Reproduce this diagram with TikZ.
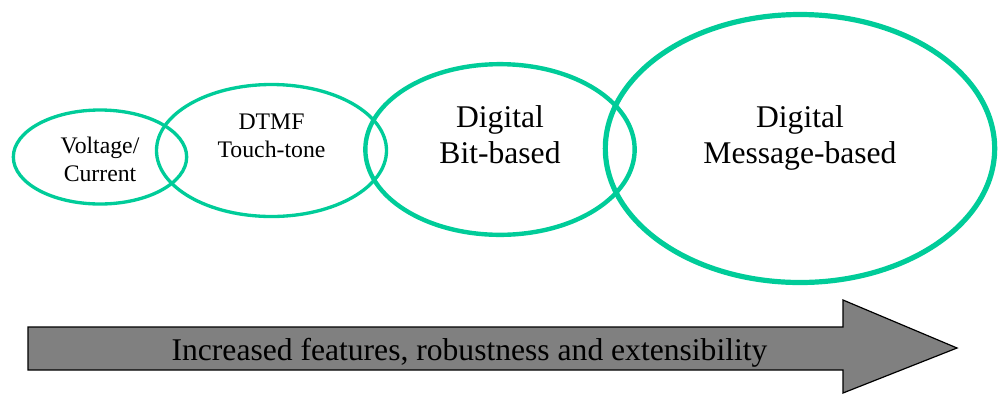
\documentclass[tikz,border=0pt]{standalone}
\usepackage{fontspec}
\setmainfont{Liberation Serif}
\usetikzlibrary{shapes.geometric, positioning}
\definecolor{ringgreen}{RGB}{0,204,153}
\definecolor{bandgray}{RGB}{128,128,128}

\begin{document}
\begin{tikzpicture}[
    x=0.75pt, y=-0.75pt,
    ring/.style={ellipse, draw=ringgreen, inner sep=0pt},
    smalltxt/.style={align=center, inner sep=0pt, font=\fontsize{17.8}{21}\selectfont},
    bigtxt/.style={align=center, inner sep=0pt, font=\fontsize{23.7}{27}\selectfont},
    band/.style={draw=black, fill=bandgray, line width=0.9pt, line join=miter}
]
\useasboundingbox (0,0) rectangle (998,394);

% Rings
\node[ring, line width=2.5pt, minimum width=130pt, minimum height=70.5pt] (volt) at (100,157) {};
\node[ring, line width=2.5pt, minimum width=172.5pt, minimum height=99pt] (dtmf) at (271.5,150.5) {};
\node[ring, line width=3.3pt, minimum width=202pt, minimum height=128pt] (bit) at (500,149.5) {};
\node[ring, line width=3.9pt, minimum width=292pt, minimum height=201pt] (msg) at (800,148.5) {};

% Labels
\node[smalltxt] (voltlbl) at ([yshift=-1.5pt]volt.center) {Voltage/\\Current};
\node[smalltxt] (dtmflbl) at ([yshift=11pt]dtmf.center) {DTMF\\Touch-tone};
\node[bigtxt] (bitlbl) at ([yshift=11pt]bit.center) {Digital\\Bit-based};
\node[bigtxt] (msglbl) at ([yshift=8pt]msg.center) {Digital\\Message-based};

% Trend arrow
\draw[band] (28,327) -- (843,327) -- (843,300) -- (957,348) -- (843,393) -- (843,370) -- (28,370) -- cycle;
\node[bigtxt] (trend) at (469.5,353) {Increased features, robustness and extensibility};

\end{tikzpicture}
\end{document}
